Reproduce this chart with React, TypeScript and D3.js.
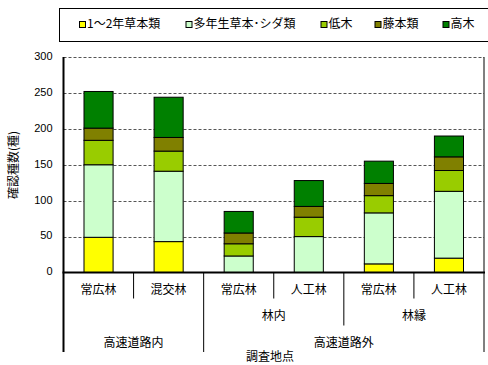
import React from "react";
import * as d3 from "d3";

const categories = ["常広林", "混交林", "常広林", "人工林", "常広林", "人工林"];
const seriesNames = ["1～2年草本類", "多年生草本･シダ類", "低木", "藤本類", "高木"];
const seriesColors = ["#FFFF00", "#CCFFCC", "#99CC00", "#808000", "#008000"];
const annual = [49, 43, 0, 0, 12, 20];
const perennial = [101, 98, 23, 50, 71, 93];
const shrub = [34, 28, 17, 27, 24, 29];
const vine = [17, 19, 15, 15, 17, 19];
const tree = [51, 56, 30, 36, 31, 29];
const yTicks = [0, 50, 100, 150, 200, 250, 300];
const midGroups = [
  { label: "林内", start: 2, end: 4 },
  { label: "林縁", start: 4, end: 6 },
];
const topGroups = [
  { label: "高速道路内", start: 0, end: 2 },
  { label: "高速道路外", start: 2, end: 6 },
];
const yTitle = "確認種数(種)";
const xTitle = "調査地点";

const W = 488, H = 365;
const L = 63.5, R = 484, T = 57, B = 272.5;
const JP = "'Noto Sans CJK JP', sans-serif";

export default function App() {
  const keys = ["a", "p", "s", "v", "t"];
  const rows = categories.map((c, i) => ({
    i, a: annual[i], p: perennial[i], s: shrub[i], v: vine[i], t: tree[i],
  }));
  const stacked = d3.stack<any>().keys(keys)(rows);
  const x = d3.scaleBand<number>().domain(categories.map((_, i) => i)).range([L, R]).padding(0);
  const y = d3.scaleLinear().domain([0, 300]).range([B, T]);
  const bw = x.bandwidth() * 0.415;
  const edge = (i: number) => (i < categories.length ? (x(i) as number) : R);

  const legendX = [79.5, 186, 321, 375, 443];

  return (
    <svg width={W} height={H} style={{ position: "absolute", left: 0, top: 0, background: "#fff" }}>
      {/* legend */}
      <rect x={59.5} y={8.5} width={440} height={33} fill="#fff" stroke="#000" strokeWidth={1} />
      {seriesNames.map((n, k) => (
        <g key={n}>
          <rect x={legendX[k]} y={21.5} width={6} height={6} fill={seriesColors[k]} stroke="#000" strokeWidth={1} />
          <text x={legendX[k] + 7.5} y={25} dominantBaseline="middle" fontFamily={JP} fontSize={12} fill="#000">{n}</text>
        </g>
      ))}
      {/* gridlines */}
      {yTicks.filter((t) => t > 0).map((t) => (
        <line key={t} x1={L} x2={R} y1={Math.round(y(t)) + 0.5} y2={Math.round(y(t)) + 0.5} stroke="#555" strokeWidth={1} strokeDasharray="3,2" />
      ))}
      {/* right border */}
      <line x1={R} x2={R} y1={T} y2={B} stroke="#000" strokeWidth={1} />
      {/* bars */}
      {stacked.map((layer, k) => (
        <g key={k}>
          {layer.map((d, i) => {
            const h = y(d[0]) - y(d[1]);
            if (h <= 0) return null;
            return (
              <rect key={i} x={(x(i) as number) + (x.bandwidth() - bw) / 2} y={y(d[1])} width={bw} height={h}
                fill={seriesColors[k]} stroke="#000" strokeWidth={1} />
            );
          })}
        </g>
      ))}
      {/* axes */}
      <line x1={L} x2={L} y1={T} y2={352} stroke="#000" strokeWidth={2} />
      <line x1={L - 1} x2={R + 1} y1={B} y2={B} stroke="#000" strokeWidth={2} />
      {yTicks.map((t) => (
        <text key={t} x={52.5} y={y(t)} textAnchor="end" dominantBaseline="middle" fontFamily="'Liberation Sans', Arial, sans-serif" fontSize={11} fill="#000">{t}</text>
      ))}
      <text transform={`translate(15,165) rotate(-90)`} textAnchor="middle" dominantBaseline="middle" fontFamily={JP} fontSize={12} fill="#000">{yTitle}</text>
      {/* category separators */}
      {d3.range(1, categories.length + 1).map((i) => {
        const xx = edge(i);
        const isTop = topGroups.some((g) => g.end === i);
        const isMid = midGroups.some((g) => g.end === i);
        const yEnd = isTop ? 352 : isMid ? 325.5 : 298.5;
        return <line key={i} x1={xx} x2={xx} y1={B} y2={yEnd} stroke="#000" strokeWidth={1} />;
      })}
      {categories.map((c, i) => (
        <text key={i} x={(x(i) as number) + x.bandwidth() / 2} y={291} textAnchor="middle" dominantBaseline="middle" fontFamily={JP} fontSize={12} fill="#000">{c}</text>
      ))}
      {midGroups.map((g) => (
        <text key={g.label} x={(edge(g.start) + edge(g.end)) / 2} y={317} textAnchor="middle" dominantBaseline="middle" fontFamily={JP} fontSize={12} fill="#000">{g.label}</text>
      ))}
      {topGroups.map((g) => (
        <text key={g.label} x={(edge(g.start) + edge(g.end)) / 2} y={344} textAnchor="middle" dominantBaseline="middle" fontFamily={JP} fontSize={12} fill="#000">{g.label}</text>
      ))}
      <text x={270} y={357.5} textAnchor="middle" dominantBaseline="middle" fontFamily={JP} fontSize={12} fill="#000">{xTitle}</text>
    </svg>
  );
}
